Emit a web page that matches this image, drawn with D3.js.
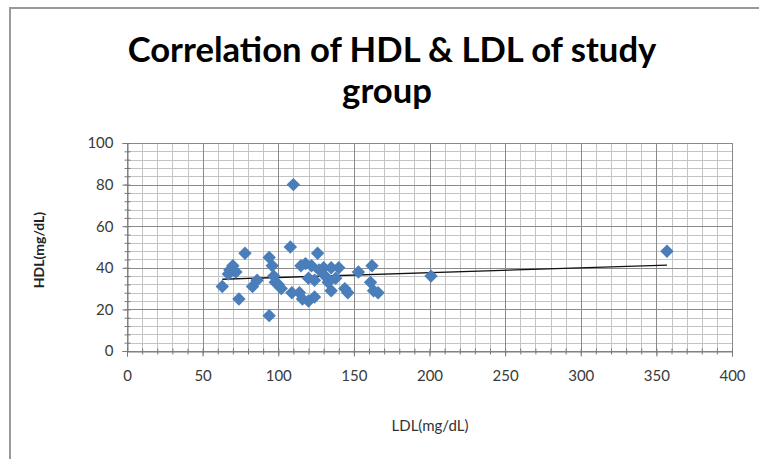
<!DOCTYPE html>
<html>
<head>
<meta charset="utf-8">
<script src="https://cdn.jsdelivr.net/npm/d3@7"></script>
<style>
  body { margin: 0; background: #fff; }
  text { font-family: Lato, "Open Sans", sans-serif; }
</style>
</head>
<body>
<div id="chart"></div>
<script>
// values
const ldl = [63, 67, 68, 70, 72, 74, 78, 83, 86, 94, 94, 96, 97, 98, 100, 102, 108, 110, 109, 115,
             116, 114, 118, 120, 120, 122, 124, 124, 126, 127, 130, 131, 133, 135, 135, 138, 140, 144, 146, 153,
             162, 161, 163, 166, 201, 357];
const hdl = [31, 37, 39, 41, 38, 25, 47, 31, 34, 45, 17, 41, 36, 33, 32, 30, 50, 80, 28, 41,
             25, 28, 42, 35, 24, 41, 34, 26, 47, 39, 40, 36, 33, 40, 29, 35, 40, 30, 28, 38,
             41, 33, 29, 28, 36, 48];
const trendLdl = [63, 357];
const trendHdl = [34.5, 41.3];
const xTicks = [0, 50, 100, 150, 200, 250, 300, 350, 400];
const yTicks = [0, 20, 40, 60, 80, 100];
const xMinor = d3.range(0, 401, 10);
const yMinor = d3.range(0, 101, 4);

const width = 759, height = 459;
const margin = {top: 143, right: 27, bottom: 108, left: 127};

let svg = d3.select("#chart").append("svg")
  .attr("width", width)
  .attr("height", height);

// chart frame
svg.append("rect")
  .attr("x", 10).attr("y", 8)
  .attr("width", width + 20).attr("height", height + 20)
  .attr("fill", "#fff")
  .attr("stroke", "#999")
  .attr("stroke-width", 2);

let x = d3.scaleLinear().domain([0, 400]).range([margin.left, width - margin.right]);
let y = d3.scaleLinear().domain([0, 100]).range([height - margin.bottom, margin.top]);

let grid = svg.append("g");

// minor gridlines
grid.selectAll(".vminor").data(xMinor).enter().append("line")
  .attr("x1", d => Math.round(x(d)) + 0.5).attr("x2", d => Math.round(x(d)) + 0.5)
  .attr("y1", y(100)).attr("y2", y(0))
  .attr("stroke", "#c4c4c4");
grid.selectAll(".hminor").data(yMinor).enter().append("line")
  .attr("y1", d => Math.round(y(d)) + 0.5).attr("y2", d => Math.round(y(d)) + 0.5)
  .attr("x1", x(0)).attr("x2", x(400))
  .attr("stroke", "#c4c4c4");

// major gridlines
grid.selectAll(".vmajor").data(xTicks).enter().append("line")
  .attr("x1", d => Math.round(x(d)) + 0.5).attr("x2", d => Math.round(x(d)) + 0.5)
  .attr("y1", y(100)).attr("y2", y(0))
  .attr("stroke", "#8a8a8a");
grid.selectAll(".hmajor").data(yTicks).enter().append("line")
  .attr("y1", d => Math.round(y(d)) + 0.5).attr("y2", d => Math.round(y(d)) + 0.5)
  .attr("x1", x(0)).attr("x2", x(400))
  .attr("stroke", "#8a8a8a");

// axes
let xAxis = svg.append("g")
  .attr("transform", "translate(0," + (Math.round(y(0)) + 0.5) + ")")
  .call(d3.axisBottom(x).tickValues(xTicks).tickSize(5).tickPadding(14).tickFormat(d3.format("d")));
let xMinorAxis = svg.append("g")
  .attr("transform", "translate(0," + (Math.round(y(0)) - 2.5) + ")")
  .call(d3.axisBottom(x).tickValues(xMinor).tickSize(6).tickFormat(""));
let yAxis = svg.append("g")
  .attr("transform", "translate(" + (Math.round(x(0)) + 0.5) + ",0)")
  .call(d3.axisLeft(y).tickValues(yTicks).tickSize(5).tickPadding(9));
let yMinorAxis = svg.append("g")
  .attr("transform", "translate(" + (Math.round(x(0)) + 3.5) + ",0)")
  .call(d3.axisLeft(y).tickValues(yMinor).tickSize(6).tickFormat(""));

[xAxis, yAxis, xMinorAxis, yMinorAxis].forEach(a => {
  a.select(".domain").attr("stroke", "#7a7a7a");
  a.selectAll(".tick line").attr("stroke", "#7a7a7a");
  a.selectAll("text").attr("fill", "#3a3a3a").style("font-size", "15px");
});
xMinorAxis.select(".domain").remove();
yMinorAxis.select(".domain").remove();

// trend line
let line = d3.line().x(d => x(d[0])).y(d => y(d[1]));
svg.append("path")
  .datum(trendLdl.map((d, i) => [d, trendHdl[i]]))
  .attr("d", line)
  .attr("fill", "none")
  .attr("stroke", "#111")
  .attr("stroke-width", 1.3);

// points
let diamond = d3.symbol().type(d3.symbolDiamond2).size(115);
svg.selectAll(".pt").data(ldl).enter().append("path")
  .attr("d", diamond)
  .attr("transform", (d, i) => "translate(" + x(d) + "," + y(hdl[i]) + ")")
  .attr("fill", "#4a7ebb");

// titles
let t1 = svg.append("text")
  .text("Correlation of HDL & LDL of study")
  .attr("x", 392).attr("y", 62)
  .attr("text-anchor", "middle")
  .style("font-weight", "bold").style("font-size", "28px").attr("fill", "#000");
let t2 = svg.append("text")
  .text("group")
  .attr("x", 387).attr("y", 103)
  .attr("text-anchor", "middle")
  .style("font-weight", "bold").style("font-size", "28px").attr("fill", "#000");
// fit title width to the reference
let w = t1.node().getComputedTextLength();
let fs = 28 * 529 / w;
t1.style("font-size", fs + "px");
t2.style("font-size", fs + "px");

svg.append("text")
  .text("LDL(mg/dL)")
  .attr("x", 430).attr("y", 431)
  .attr("text-anchor", "middle")
  .style("font-size", "15px").attr("fill", "#333");

svg.append("text")
  .text("HDL(mg/dL)")
  .attr("transform", "translate(44,250) rotate(-90)")
  .attr("text-anchor", "middle")
  .style("font-weight", "bold").style("font-size", "14px").attr("fill", "#222");
</script>
</body>
</html>
